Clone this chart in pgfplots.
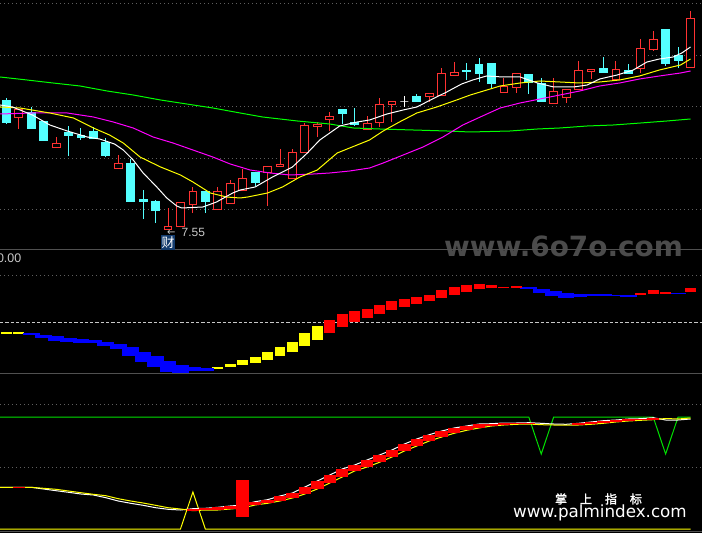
\documentclass[border=0pt]{standalone}
\usepackage{fontspec}
\usepackage{pgfplots}
\usepackage{pgfplotstable}
\pgfplotsset{compat=1.18}
\usepgfplotslibrary{statistics}
\setmainfont{Liberation Sans}
\newfontfamily\dvs{DejaVu Sans}
\newfontfamily\cjk{Noto Sans CJK SC}
\newfontfamily\cjkb[FakeBold=2]{Noto Sans CJK SC}

\definecolor{cup}{RGB}{255,50,50}
\definecolor{cdn}{RGB}{84,255,255}
\definecolor{bred}{RGB}{255,0,0}
\definecolor{byel}{RGB}{255,255,0}
\definecolor{bblu}{RGB}{0,0,255}
\definecolor{mamag}{RGB}{255,0,255}
\definecolor{magrn}{RGB}{0,255,0}
\definecolor{sggrn}{RGB}{0,225,0}
\definecolor{gridc}{RGB}{95,95,95}
\definecolor{sepc}{RGB}{80,80,80}
\definecolor{lblc}{RGB}{200,200,200}
\definecolor{wmc}{RGB}{75,75,75}
\definecolor{cjkbox}{RGB}{20,60,110}

% candles: pixel rows (hi = top of upper wick, top/bot = body, lo = end of lower wick)
\pgfplotstableread{
i hi top bot lo
0 98 100 122 124
1 109 109 117 129
2 107 112 128 128
3 121 121 140 140
4 137 143 147 147
5 126 132 135 156
6 128 135 137 140
7 127 131 138 138
8 138 142 155 157
9 155 163 168 168
10 159 163 201 201
11 190 199 201 219
12 200 201 210 223
13 208 226 229 230
14 202 202 226 226
15 187 191 204 213
16 191 191 201 213
17 187 191 209 209
18 180 183 203 203
19 169 178 190 190
20 172 172 182 186
21 166 166 172 206
22 149 164 166 166
23 149 152 178 178
24 123 125 152 152
25 122 124 126 137
26 112 116 119 131
27 109 109 113 124
28 108 122 124 126
29 116 123 129 129
30 98 104 122 127
31 101 101 104 122
32 96 101 101 107
33 94 96 101 101
34 93 93 96 102
35 68 73 95 95
36 62 72 75 75
37 63 70.5 71.5 80
38 58 64 73 82
39 63 63 83 88
40 78 86 92 92
41 73 73 87 93
42 74 74 82 94
43 78 83 101 101
44 78 91 103 103
45 89 89 97 103
46 61 70 89 89
47 69 69 71 79
48 57 68 72 72
49 61 69 79 79
50 64 70 73 73
51 39 48 68 73
52 31 39 49 51
53 29 29 63 66
54 47 55 60 68
55 11 18 67 67
}\candles

\pgfplotstableread{
i a b
0 332 333.7
1 332 333.7
2 333 335
3 335 337.7
4 336 340.7
5 338 342
6 339 343
7 340 342.7
8 342 345.7
9 344.3 349
10 347 355.7
11 352 361.7
12 356 367
13 361 371.7
14 365 373.3
15 367 370.7
16 368 371
17 366.7 369
18 364 366.7
19 360 365
20 357 363
21 352 360
22 347 356
23 342 352
24 333 346
25 326 340
26 320 333
27 314 327
28 311 321.7
29 309 318
30 305 314
31 301 310
32 299 307
33 297 304
34 295 301
35 290 298
36 287 295
37 285 292
38 284 289
39 285 288
40 287 288.3
41 286 288
42 287 289
43 289 293
44 291 296
45 293 298
46 294 297
47 294 296
48 294 295.7
49 295 296
50 295 297
51 293 295
52 290 294
53 292 293.7
54 293 294
55 288 292
}\midbars

\pgfplotstableread{
i a b
0 487.3 487.3
1 486.7 488
2 487.3 487.3
3 488 489
4 489 490
5 491 492
6 492 493
7 494 495
8 495 497
9 498 501
10 501 503
11 503 505
12 505 507
13 507 509
14 509 510
15 508.7 510.7
16 508.3 510
17 507.3 510
18 506 509
19 480 517
20 501.7 505
21 499.7 503.3
22 496 501
23 493 498
24 487 494
25 481 489
26 475 483
27 469 477
28 465 471
29 460 467
30 455 462.3
31 450 457
32 444 451
33 439 446
34 434.7 441
35 431 437
36 428 433.3
37 426 430.3
38 424 428
39 423.7 426
40 423 425
41 423 424.3
42 422.7 424
43 423.3 424.7
44 424 425
45 424.3 425
46 423.3 425
47 422 424.3
48 420.7 423.3
49 420 422
50 419 421
51 418.7 420.3
52 417.7 419.7
53 418.5 420
54 419 420
55 418.3 419.3
}\btmbars

\pgfplotstableread{
i w y
-0.5 487.3 487.3
0 487.3 487.3
1 487.3 487.3
2 487.3 487.3
3 489 488.3
4 490.7 489.3
5 492.3 491
6 494 492.7
7 495 494.3
8 497.7 495.7
9 501 498.7
10 503.3 501
11 505.3 503
12 507.7 505.3
13 509.3 507.7
14 510 509
15 508.7 510.7
16 508.3 510
17 507.3 510
18 506 509
19 505 508
20 501.7 505
21 499.7 503.3
22 496 501
23 493 498
24 487 494
25 481 489
26 475 483
27 469 477
28 465 471
29 460 467
30 455 462.3
31 450 457
32 444 451
33 439 446
34 434.7 441
35 431 437
36 428 433.3
37 426 430.3
38 424 428
39 423.7 426
40 423 425
41 423 424.3
42 422.7 424
43 423.3 424.7
44 424 425
45 424.3 425
46 423.3 425
47 422 424.3
48 420.7 423.3
49 420 422
50 419 421
51 418.7 420.3
52 417.7 419.7
53 420 418.5
54 420 419
55 419 418
}\btmlines

\pgfplotsset{
  candle/.style n args={3}{boxplot/draw direction=y, boxplot/box extend=0.63, boxplot/whisker extend=0,
    boxplot/every box/.style={draw=#1, fill=#2, line width=0.9bp},
    boxplot/every whisker/.style={draw=#1, line width=0.9bp},
    boxplot/every median/.style={draw=none},
    boxplot/draw position=#3},
  block/.style n args={3}{boxplot/draw direction=y, boxplot/box extend=#2, boxplot/whisker extend=0,
    boxplot/every box/.style={draw=none, fill=#1},
    boxplot/every whisker/.style={draw=none},
    boxplot/every median/.style={draw=none},
    boxplot/draw position=#3},
}

% one candle from row #1 of \candles, outline #2, fill #3
\newcommand\candleplot[3]{%
  \pgfplotstablegetelem{#1}{hi}\of\candles\edef\cA{\pgfplotsretval}%
  \pgfplotstablegetelem{#1}{top}\of\candles\edef\cB{\pgfplotsretval}%
  \pgfplotstablegetelem{#1}{bot}\of\candles\edef\cC{\pgfplotsretval}%
  \pgfplotstablegetelem{#1}{lo}\of\candles\edef\cD{\pgfplotsretval}%
  \edef\doit{\noexpand\addplot[candle={#2}{#3}{#1}, boxplot prepared={draw direction=y, lower whisker=\cA, lower quartile=\cB, median=\cB, upper quartile=\cC, upper whisker=\cD}] coordinates {};}%
  \doit}
% one block from row #1 of table #2, colour #3, width #4
\newcommand\blockplot[4]{%
  \pgfplotstablegetelem{#1}{a}\of#2\edef\cA{\pgfplotsretval}%
  \pgfplotstablegetelem{#1}{b}\of#2\edef\cB{\pgfplotsretval}%
  \edef\doit{\noexpand\addplot[block={#3}{#4}{#1}, boxplot prepared={draw direction=y, lower whisker=\cA, lower quartile=\cA, median=\cA, upper quartile=\cB, upper whisker=\cB}] coordinates {};}%
  \doit}

\begin{document}
\begin{tikzpicture}[x=1bp,y=1bp]
\useasboundingbox (0,0) rectangle (702,533);
\clip (0,0) rectangle (702,533);
\fill[black] (0,0) rectangle (702,533);

\begin{scope}[yshift=533bp, y=-1bp]
  \foreach \yy in {3.3,55.3,106.7,158.3,209.3,275,404,467}
    \draw[gridc, line width=0.8bp, dash pattern=on 1bp off 3bp] (0,\yy) -- (702,\yy);
  \draw[lblc, line width=0.8bp, dash pattern=on 3.3bp off 2bp] (0,322) -- (702,322);
  \node[anchor=base west, inner sep=0, text=wmc, font=\dvs\bfseries\fontsize{28}{28}\selectfont] at (444,256.5) {www.6o7o.com};
  \draw[sepc, line width=1bp] (0,249.3) -- (702,249.3);
  \draw[sepc, line width=1bp] (0,374) -- (702,374);
  \draw[sepc, line width=1bp] (0,532) -- (702,532);
\end{scope}

\begin{axis}[at={(0,0)}, anchor=south west, scale only axis,
  width=702bp, height=533bp, hide axis, boxplot/draw direction=y,
  xmin=-0.5064, xmax=55.925, ymin=0, ymax=533, y dir=reverse, clip=true]

% ---- top panel: candles
\pgfplotsinvokeforeach{1,4,9,13,14,15,17,18,19,21,22,23,24,25,26,29,30,31,34,35,36,40,41,44,45,46,47,49,51,52,55}{
  \candleplot{#1}{cup}{black}
}
\pgfplotsinvokeforeach{0,2,3,5,6,7,8,10,11,12,16,20,27,28,33,37,38,39,42,43,48,50,53,54}{
  \candleplot{#1}{cdn}{cdn}
}
\candleplot{32}{white}{white}

% ---- moving averages
\addplot[magrn, line width=1bp] coordinates {(-0.5,77) (1.66,80) (3.75,83) (5.92,86) (8.1,91) (10.2,95) (12.4,100) (14.5,104) (16.6,108) (18.8,113) (20.6,117) (23.4,121) (26.0,124) (27.9,128) (30.0,129) (32.7,130) (35.4,131) (37.3,132) (40.5,131) (42.7,129) (44.5,128) (46.7,126) (48.8,125) (51.0,123) (53.1,121) (55.0,119)};
\addplot[mamag, line width=1bp] coordinates {(-0.5,114) (2.1,113) (4.9,113) (7.0,117) (8.6,122) (10.2,128) (11.8,137) (13.4,143) (15.0,150) (16.6,157) (18.0,164) (19.6,170) (21.2,173) (22.8,175) (24.7,174) (26.0,173) (27.6,171) (29.2,168) (30.3,163) (31.9,155) (33.5,147) (35.1,137) (36.7,125) (38.1,117) (39.7,108) (41.3,103) (42.9,99) (44.5,95) (46.1,91) (47.7,86) (49.3,83) (50.9,79) (52.5,76) (54.2,73) (55.0,71)};
\addplot[byel, line width=1bp] coordinates {(-0.5,107) (1.1,108) (3.5,113) (5.4,118) (7.0,128) (8.3,135) (9.4,143) (10.75,157) (12.4,167) (14.0,175) (15.0,182) (16.4,193) (17.7,197) (18.8,198) (19.4,197) (21.0,193) (22.2,187) (23.6,177) (25.0,170) (26.6,153) (27.6,148) (29.2,140) (30.3,131) (31.6,122) (33.0,113) (34.6,107) (36.2,100) (37.3,95) (38.1,92) (39.7,86) (41.3,83) (42.9,81) (44.5,82) (46.1,83) (47.7,82) (49.3,80) (50.9,76) (52.5,70) (54.2,65) (55.0,59)};
\addplot[white, line width=1bp] coordinates {(-0.5,105) (0.5,107) (2.1,115) (3.5,125) (4.9,131) (6.5,137) (7.5,139) (8.7,144) (9.4,150) (10.2,160) (11.0,173) (12.1,187) (12.9,198) (13.7,206) (14.1,208) (15.8,207) (16.9,202) (18.2,193) (18.8,190) (20.0,187) (21.4,177) (23.0,167) (24.2,153) (25.2,140) (26.8,126) (28.2,122) (29.2,120) (30.6,114) (31.9,110) (33.0,107) (34.1,100) (35.4,92) (36.6,84) (37.5,80) (38.6,76) (39.9,77) (41.3,77) (42.7,83) (44.0,87) (45.6,87) (46.7,85) (47.7,79) (49.1,75) (50.4,70) (51.5,62) (52.5,59) (53.6,57) (54.3,53) (55.0,47)};

% ---- middle panel
\pgfplotsinvokeforeach{0,1,17,18,19,20,21,22,23,24,25}{
  \blockplot{#1}{\midbars}{byel}{0.88}
}
\pgfplotsinvokeforeach{2,3,4,5,6,7,8,9,10,11,12,13,14,15,16,42,43,44,45,46,47,48,49,50,54}{
  \blockplot{#1}{\midbars}{bblu}{1.34}
}
\pgfplotsinvokeforeach{26,27,28,29,30,31,32,33,34,35,36,37,38,39,40,41,51,52,53,55}{
  \blockplot{#1}{\midbars}{bred}{0.88}
}

% ---- bottom panel
\addplot[sggrn, line width=1bp] coordinates {(-0.5,417) (42,417) (43,454) (44,417) (52,417) (53,454) (54,417) (55,417)};
\addplot[byel, line width=1bp] coordinates {(-0.5,529) (14,529) (15,492) (16,529) (55,529)};
\addplot[white, line width=1bp] table[x=i, y=w] {\btmlines};
\addplot[byel, line width=1bp] table[x=i, y=y] {\btmlines};
\pgfplotsinvokeforeach{1,15,16,17,18,19,20,21,22,23,24,25,26,27,28,29,30,31,32,33,34,35,36,37,38,39,40,41,42,46,47,48,49,50,51,52}{
  \blockplot{#1}{\btmbars}{bred}{1.0}
}
\end{axis}

\begin{scope}[yshift=533bp, y=-1bp]
  \node[anchor=east, inner sep=0, text=lblc, font=\fontsize{12.5}{12.5}\selectfont] at (21.5,257.8) {0.00};
  \node[anchor=west, inner sep=0, text=lblc, font=\dvs\fontsize{10}{10}\selectfont] at (167,232.8) {←};
  \node[anchor=west, inner sep=0, text=lblc, font=\fontsize{12}{12}\selectfont] at (181.5,232.8) {7.55};
  \node[fill=cjkbox, text=white, inner sep=0.6bp, minimum width=14bp, minimum height=15bp, font=\cjk\fontsize{13}{13}\selectfont] at (168,242.5) {财};
  \node[text=white, inner sep=0, font=\cjkb\fontsize{12}{12}\selectfont] at (598.5,499) {掌\hspace{13bp}上\hspace{13bp}指\hspace{13bp}标};
  \node[anchor=base west, inner sep=0, text=white, font=\dvs\fontsize{16.8}{16.8}\selectfont] at (513,518) {www.palmindex.com};
\end{scope}
\end{tikzpicture}
\end{document}
